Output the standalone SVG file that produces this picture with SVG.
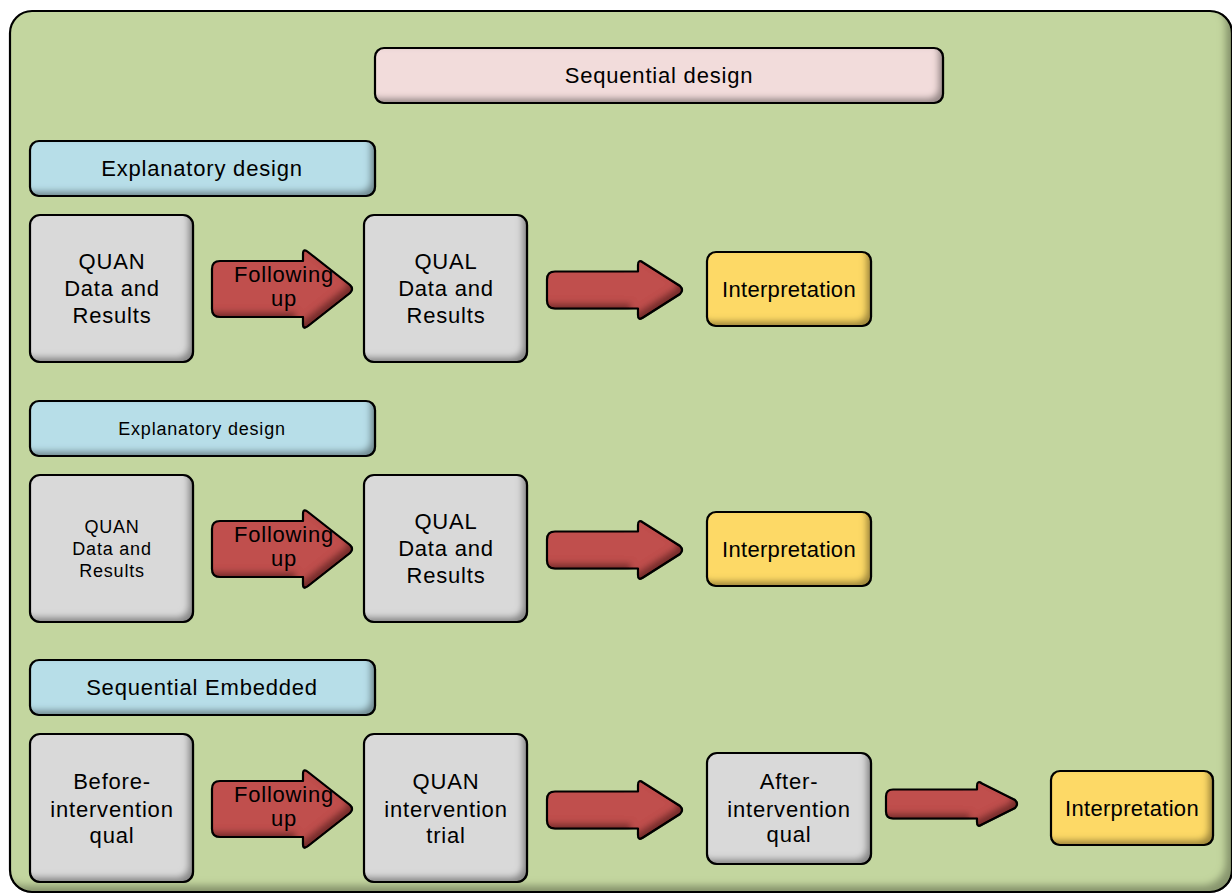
<svg xmlns="http://www.w3.org/2000/svg" width="1232" height="896" viewBox="0 0 1232 896">
  <defs>
    <!-- soft inner shade along the lower and right edges -->
    <filter id="bevel" x="-5%" y="-5%" width="110%" height="110%">
      <feOffset in="SourceAlpha" dx="-6" dy="-6" result="o"/>
      <feGaussianBlur in="o" stdDeviation="3" result="b"/>
      <feComposite in="SourceAlpha" in2="b" operator="out" result="band"/>
      <feFlood flood-color="#000" flood-opacity="0.65"/>
      <feComposite in2="band" operator="in" result="sh"/>
      <feMerge><feMergeNode in="SourceGraphic"/><feMergeNode in="sh"/></feMerge>
    </filter>
    <filter id="bevelWide" x="-2%" y="-2%" width="104%" height="104%">
      <feOffset in="SourceAlpha" dx="-8" dy="-8" result="o"/>
      <feGaussianBlur in="o" stdDeviation="3.5" result="b"/>
      <feComposite in="SourceAlpha" in2="b" operator="out" result="band"/>
      <feFlood flood-color="#000" flood-opacity="0.55"/>
      <feComposite in2="band" operator="in" result="sh"/>
      <feMerge><feMergeNode in="SourceGraphic"/><feMergeNode in="sh"/></feMerge>
    </filter>
    <path id="arrowBig" d="M 8,-28 L 91,-28 L 91,-35 Q 91,-41 96,-37 L 138,-4 Q 142,0 138,4 L 96,37 Q 91,41 91,35 L 91,28 L 8,28 Q 0,28 0,20 L 0,-20 Q 0,-28 8,-28 Z"/>
    <path id="arrowMid" d="M 8,-18.5 L 91,-18.5 L 91,-25 Q 91,-31 96,-27.5 L 133,-4 Q 137,0 133,4 L 96,27.5 Q 91,31 91,25 L 91,18.5 L 8,18.5 Q 0,18.5 0,10.5 L 0,-10.5 Q 0,-18.5 8,-18.5 Z"/>
    <path id="arrowSmall" d="M 7,-14.5 L 91,-14.5 L 91,-18 Q 91,-24 96,-20.5 L 129,-4 Q 133,0 129,4 L 96,20.5 Q 91,24 91,18 L 91,14.5 L 7,14.5 Q 0,14.5 0,7.5 L 0,-7.5 Q 0,-14.5 7,-14.5 Z"/>
  </defs>
  <style>
    .shape { stroke: #000; stroke-width: 2.2; stroke-linejoin: round; filter: url(#bevel); }
    .frame { fill: #C3D69F; }
    .title { fill: #F2DCDB; }
    .head { fill: #B7DEE8; }
    .box { fill: #D9D9D9; }
    .interp { fill: #FDD966; }
    .arrow { fill: #C0504D; }
    text { font-family: "Liberation Sans", Arial, sans-serif; fill: #000; text-anchor: middle; }
    .t22 { font-size: 22px; letter-spacing: 0.8px; }
    .t18 { font-size: 18px; letter-spacing: 0.8px; }
    .ti { font-size: 22px; letter-spacing: 0.3px; }
  </style>

  <!-- background frame -->
  <g id="frame">
    <rect class="shape frame" style="filter:url(#bevelWide)" x="10" y="11" width="1222" height="881" rx="22"/>
  </g>

  <g id="title">
    <rect class="shape title" x="375" y="48" width="568" height="55" rx="9"/>
    <text class="t22" x="659" y="83">Sequential design</text>
  </g>

  <!-- row 1 -->
  <g id="header1">
    <rect class="shape head" x="30" y="141" width="345" height="55" rx="9"/>
    <text class="t22" x="202" y="176">Explanatory design</text>
  </g>
  <g id="quan1">
    <rect class="shape box" x="30" y="215" width="163" height="147" rx="10"/>
    <text class="t22" x="112" y="269">QUAN</text>
    <text class="t22" x="112" y="296">Data and</text>
    <text class="t22" x="112" y="323">Results</text>
  </g>
  <g id="qual1">
    <rect class="shape box" x="364" y="215" width="163" height="147" rx="10"/>
    <text class="t22" x="446" y="269">QUAL</text>
    <text class="t22" x="446" y="296">Data and</text>
    <text class="t22" x="446" y="323">Results</text>
  </g>
  <g id="interp1">
    <rect class="shape interp" x="707" y="252" width="164" height="74" rx="9"/>
    <text class="ti" x="789" y="297">Interpretation</text>
  </g>

  <!-- row 2 -->
  <g id="header2">
    <rect class="shape head" x="30" y="401" width="345" height="55" rx="9"/>
    <text class="t18" x="202" y="435">Explanatory design</text>
  </g>
  <g id="quan2">
    <rect class="shape box" x="30" y="475" width="163" height="147" rx="10"/>
    <text class="t18" x="112" y="533">QUAN</text>
    <text class="t18" x="112" y="555">Data and</text>
    <text class="t18" x="112" y="577">Results</text>
  </g>
  <g id="qual2">
    <rect class="shape box" x="364" y="475" width="163" height="147" rx="10"/>
    <text class="t22" x="446" y="529">QUAL</text>
    <text class="t22" x="446" y="556">Data and</text>
    <text class="t22" x="446" y="583">Results</text>
  </g>
  <g id="interp2">
    <rect class="shape interp" x="707" y="512" width="164" height="74" rx="9"/>
    <text class="ti" x="789" y="557">Interpretation</text>
  </g>

  <!-- row 3 -->
  <g id="header3">
    <rect class="shape head" x="30" y="660" width="345" height="55" rx="9"/>
    <text class="t22" x="202" y="695">Sequential Embedded</text>
  </g>
  <g id="before">
    <rect class="shape box" x="30" y="734" width="163" height="148" rx="10"/>
    <text class="t22" x="112" y="789">Before-</text>
    <text class="t22" x="112" y="817">intervention</text>
    <text class="t22" x="112" y="843">qual</text>
  </g>
  <g id="trial">
    <rect class="shape box" x="364" y="734" width="163" height="148" rx="10"/>
    <text class="t22" x="446" y="789">QUAN</text>
    <text class="t22" x="446" y="817">intervention</text>
    <text class="t22" x="446" y="843">trial</text>
  </g>
  <g id="after">
    <rect class="shape box" x="707" y="753" width="164" height="111" rx="10"/>
    <text class="t22" x="789" y="789">After-</text>
    <text class="t22" x="789" y="817">intervention</text>
    <text class="t22" x="789" y="842">qual</text>
  </g>
  <g id="interp3">
    <rect class="shape interp" x="1051" y="771" width="162" height="74" rx="9"/>
    <text class="ti" x="1132" y="816">Interpretation</text>
  </g>

  <!-- block arrows between the steps -->
  <g id="connectors">
    <g id="follow1">
      <use href="#arrowBig" class="shape arrow" transform="translate(212,289)"/>
      <text class="t22" x="284" y="282">Following</text>
      <text class="t22" x="284" y="306">up</text>
    </g>
    <use href="#arrowMid" class="shape arrow" transform="translate(547,290)"/>
    <g id="follow2">
      <use href="#arrowBig" class="shape arrow" transform="translate(212,549)"/>
      <text class="t22" x="284" y="542">Following</text>
      <text class="t22" x="284" y="566">up</text>
    </g>
    <use href="#arrowMid" class="shape arrow" transform="translate(547,550)"/>
    <g id="follow3">
      <use href="#arrowBig" class="shape arrow" transform="translate(212,809)"/>
      <text class="t22" x="284" y="802">Following</text>
      <text class="t22" x="284" y="826">up</text>
    </g>
    <use href="#arrowMid" class="shape arrow" transform="translate(547,810)"/>
    <use href="#arrowSmall" class="shape arrow" transform="translate(886,804)"/>
  </g>
</svg>
